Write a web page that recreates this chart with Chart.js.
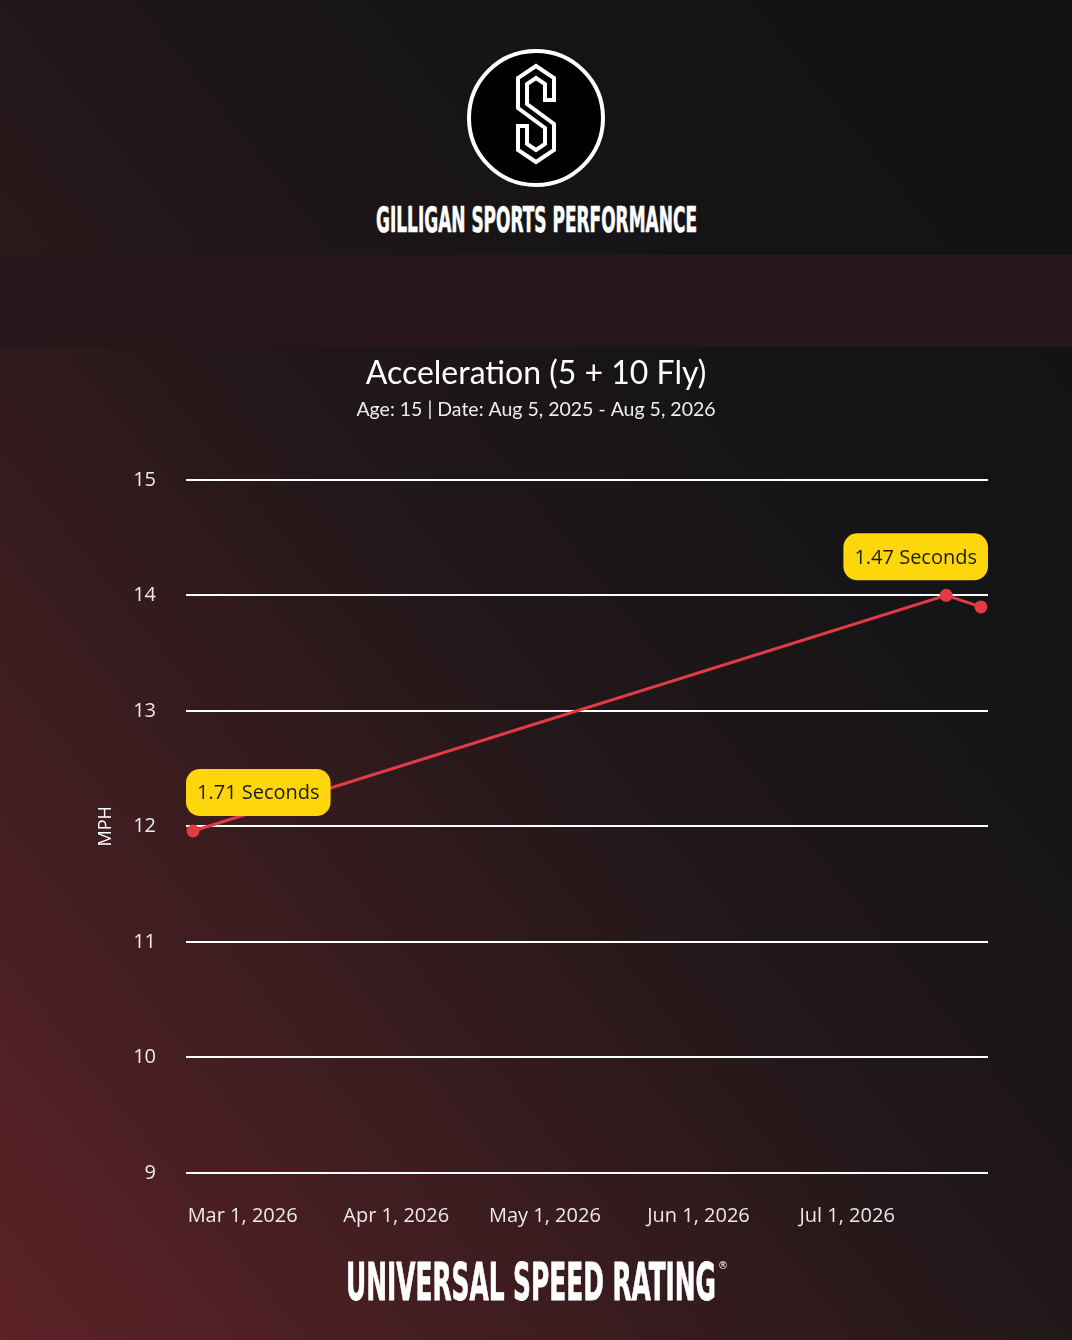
<!DOCTYPE html>
<html>
<head>
<meta charset="utf-8">
<script src="https://cdn.jsdelivr.net/npm/chart.js@4.4.1/dist/chart.umd.min.js"></script>
<style>
  html, body { margin: 0; padding: 0; }
  body {
    width: 1072px; height: 1340px; position: relative; overflow: hidden;
    background: linear-gradient(to top right, #5c2226 0%, #3b1c1f 28%, #211719 50%, #141416 72%, #121214 100%);
    font-family: 'Open Sans', sans-serif;
  }
  #header { position: absolute; left: 0; top: 0; width: 1072px; height: 255px; }
  #band { position: absolute; left: 0; top: 255px; width: 1072px; height: 92px; background: #27171a; }
  #wrap { position: absolute; left: 0; top: 347px; width: 1072px; height: 912px; }
  #footer { position: absolute; left: 0; top: 1250px; width: 1072px; height: 60px; }
</style>
</head>
<body>

<svg id="header" width="1072" height="255">
  <circle cx="536" cy="118" r="67" fill="#000" stroke="#fff" stroke-width="4"/>
  <path d="M536,66 L554,78 L554,100 L545,100 L545,84 L536,78 L527,84 L527,104 L554,124 L554,150 L536,162 L518,150 L518,126 L527,126 L527,144 L536,150 L545,144 L545,128 L518,108 L518,78 Z"
        fill="none" stroke="#fff" stroke-width="4" stroke-linejoin="miter"/>
  <text x="376" y="232" textLength="321" lengthAdjust="spacingAndGlyphs"
        font-family="DejaVu Sans Condensed, DejaVu Sans" font-weight="bold" font-size="36"
        fill="#fff" stroke="#fff" stroke-width="0.6">GILLIGAN SPORTS PERFORMANCE</text>
</svg>
<div id="band"></div>

<div id="wrap"><canvas id="grafica" width="1072" height="912"></canvas></div>

<svg id="footer" width="1072" height="60">
  <text x="346" y="50" textLength="370" lengthAdjust="spacingAndGlyphs"
        font-family="DejaVu Sans Condensed, DejaVu Sans" font-weight="bold" font-size="52"
        fill="#fff" stroke="#fff" stroke-width="0.8">UNIVERSAL SPEED RATING</text>
  <text x="718" y="19" font-family="DejaVu Sans" font-size="10" fill="#fff">®</text>
</svg>

<script>
// Datos de la grafica

const fechas = ['2026-02-19', '2026-07-21', '2026-07-28'];
const velocidad = [11.96, 14.0, 13.9];
const etiquetas = ['1.71 Seconds', '1.47 Seconds', null];
const fechasTicks = ['2026-03-01', '2026-04-01', '2026-05-01', '2026-06-01', '2026-07-01'];
const ticksMph = [9, 10, 11, 12, 13, 14, 15];

const titulo = 'Acceleration (5 + 10 Fly)';
const subtitulo = 'Age: 15 | Date: Aug 5, 2025 - Aug 5, 2026';

// Conversion de fechas

const DIA = 86400000;
const aDia = f => Date.parse(f + 'T00:00:00Z') / DIA;
const formato = d => new Date(d * DIA).toLocaleDateString('en-US', {
  month: 'short', day: 'numeric', year: 'numeric', timeZone: 'UTC'
});

const puntos = fechas.map((f, i) => ({ x: aDia(f), y: velocidad[i] }));
const primero = puntos[0].x;
const ultimo = puntos[puntos.length - 1].x;
const margen = (ultimo - primero) * 0.009;

// Etiquetas amarillas sobre los puntos

const etiquetasPlugin = {
  id: 'etiquetas',
  afterDatasetsDraw(chart) {
    const ctx = chart.ctx;
    const meta = chart.getDatasetMeta(0);
    const area = chart.chartArea;
    ctx.save();
    ctx.font = '20px "Open Sans"';
    meta.data.forEach((p, i) => {
      const txt = etiquetas[i];
      if (!txt) return;
      const w = ctx.measureText(txt).width + 22;
      const h = 47;
      let x = p.x - w / 2;
      if (x < area.left) x = area.left;
      if (x + w > area.right) x = area.right - w;
      const y = p.y - 15 - h;
      ctx.fillStyle = '#fdd60b';
      ctx.beginPath();
      ctx.roundRect(x, y, w, h, 14);
      ctx.fill();
      ctx.fillStyle = '#1c1a14';
      ctx.textAlign = 'center';
      ctx.textBaseline = 'middle';
      ctx.fillText(txt, x + w / 2, y + h / 2 + 1);
    });
    ctx.restore();
  }
};

const data = {
  datasets: [{
    label: 'MPH',
    data: puntos,
    borderColor: '#e23b46',
    backgroundColor: '#e23b46',
    borderWidth: 3,
    pointRadius: 5,
    pointHoverRadius: 5,
    tension: 0
  }]
};

const config = {
  type: 'line',
  data,
  options: {
    responsive: false,
    animation: false,
    layout: { padding: { left: 84, right: 84, top: 0, bottom: 0 } },
    plugins: {
      legend: { display: false },
      tooltip: { enabled: false },
      title: {
        display: true,
        text: titulo,
        color: '#ffffff',
        font: { family: 'Lato', size: 32, weight: 'normal' },
        padding: { top: 7, bottom: 6 }
      },
      subtitle: {
        display: true,
        text: subtitulo,
        color: '#eeeeee',
        font: { family: 'Lato', size: 19.5, weight: 'normal' },
        padding: { top: 0, bottom: 58 }
      }
    },
    scales: {
      x: {
        type: 'linear',
        min: primero - margen,
        max: ultimo + margen,
        afterBuildTicks: scale => {
          scale.ticks = fechasTicks.map(f => ({ value: aDia(f) }));
        },
        afterFit: scale => {
          scale.paddingLeft = 0;
          scale.paddingRight = 0;
        },
        ticks: {
          color: 'rgba(255,255,255,0.9)',
          font: { family: 'Open Sans', size: 20 },
          padding: 31,
          maxRotation: 0,
          autoSkip: false,
          callback: v => formato(v)
        },
        grid: { display: false, drawTicks: false },
        border: { display: false }
      },
      y: {
        min: ticksMph[0],
        max: ticksMph[ticksMph.length - 1],
        afterBuildTicks: scale => {
          scale.ticks = ticksMph.map(v => ({ value: v }));
        },
        afterFit: scale => {
          scale.width = 102;
        },
        ticks: {
          color: 'rgba(255,255,255,0.9)',
          font: { family: 'Open Sans', size: 20 },
          padding: 30
        },
        grid: { color: '#ffffff', lineWidth: 2, drawTicks: false },
        border: { display: false },
        title: {
          display: true,
          text: 'MPH',
          color: '#ffffff',
          font: { family: 'Open Sans', size: 18 },
          padding: { top: 11, bottom: 17 }
        }
      }
    }
  },
  plugins: [etiquetasPlugin]
};

var mphChart = new Chart(document.getElementById('grafica'), config);
</script>
</body>
</html>
